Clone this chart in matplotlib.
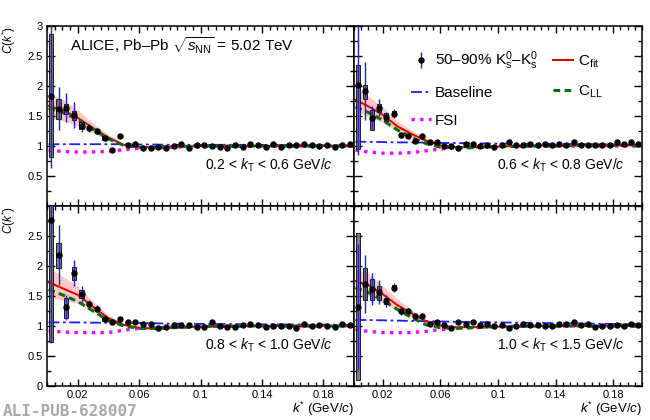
import matplotlib.pyplot as plt
from matplotlib.patches import Rectangle
from matplotlib.ticker import FixedLocator, MultipleLocator, FormatStrFormatter

plt.rcParams['font.family'] = ['Liberation Sans', 'DejaVu Sans']
plt.rcParams['mathtext.fontset'] = 'custom'
plt.rcParams['mathtext.rm'] = 'Liberation Sans'
plt.rcParams['mathtext.it'] = 'Liberation Sans:italic'
plt.rcParams['mathtext.bf'] = 'Liberation Sans:bold'

# k* bin centres (GeV/c)
kstar = [0.0025, 0.0075, 0.0125, 0.0175, 0.0225, 0.0275, 0.0325, 0.0375, 0.0425, 0.0475,
         0.0525, 0.0575, 0.0625, 0.0675, 0.0725, 0.0775, 0.0825, 0.0875, 0.0925, 0.0975,
         0.1025, 0.1075, 0.1125, 0.1175, 0.1225, 0.1275, 0.1325, 0.1375, 0.1425, 0.1475,
         0.1525, 0.1575, 0.1625, 0.1675, 0.1725, 0.1775, 0.1825, 0.1875, 0.1925, 0.1975]

# measured correlation C(k*), one list per kT bin
c_kt1 = [1.83, 1.62, 1.64, 1.52, 1.33, 1.30, 1.25, 1.13, 0.94, 1.16,
         1.02, 1.04, 0.96, 0.97, 0.99, 0.97, 1.00, 1.03, 0.97, 1.02,
         1.01, 1.00, 0.99, 0.96, 1.01, 0.99, 1.04, 1.01, 0.99, 1.03,
         0.99, 1.01, 1.02, 1.04, 1.01, 1.00, 1.02, 0.99, 1.02, 1.03]
c_kt2 = [2.02, 1.92, 1.46, 1.64, 1.48, 1.54, 1.18, 1.16, 1.08, 1.16,
         1.07, 1.06, 1.00, 1.00, 0.96, 1.03, 1.03, 1.00, 1.02, 0.99,
         1.02, 1.06, 1.02, 1.01, 1.03, 1.01, 1.03, 1.02, 1.03, 1.01,
         1.06, 1.02, 1.02, 1.02, 1.02, 1.01, 1.07, 1.03, 1.06, 1.03]
c_kt3 = [2.77, 2.18, 1.31, 1.88, 1.53, 1.36, 1.29, 1.11, 1.06, 1.11,
         1.06, 1.06, 1.03, 1.03, 0.96, 0.99, 1.02, 1.02, 1.01, 0.98,
         0.99, 1.06, 1.00, 0.99, 0.99, 1.01, 1.04, 1.01, 0.99, 1.00,
         1.00, 1.00, 0.97, 1.04, 1.00, 1.02, 1.00, 0.99, 1.03, 1.01]
c_kt4 = [1.32, 1.70, 1.62, 1.56, 1.41, 1.64, 1.25, 1.25, 1.17, 1.16,
         1.03, 1.06, 1.02, 0.97, 1.06, 1.03, 1.06, 1.02, 1.03, 1.00,
         1.02, 0.96, 1.00, 1.03, 1.02, 1.02, 1.00, 1.00, 1.04, 1.04,
         1.06, 1.02, 1.03, 0.99, 1.00, 1.00, 1.02, 1.00, 1.03, 1.01]

# statistical errors of the first bins (later ones hide under the marker)
stat_kt1 = [1.20, 0.36, 0.24, 0.22, 0.09, 0.06, 0.05, 0.04]
stat_kt2 = [1.17, 0.48, 0.20, 0.14, 0.08, 0.08, 0.04, 0.03]
stat_kt3 = [2.05, 0.50, 0.21, 0.22, 0.13, 0.07, 0.06, 0.04]
stat_kt4 = [1.05, 0.49, 0.27, 0.20, 0.10, 0.08, 0.06, 0.05]

# systematic boxes of the first bins: lower / upper edge
sys_lo_kt1 = [0.82, 1.45, 1.53, 1.44, 1.28, 1.26, 1.22, 1.10]
sys_hi_kt1 = [2.87, 1.78, 1.70, 1.58, 1.40, 1.34, 1.29, 1.16]
sys_lo_kt2 = [0.95, 1.79, 1.27, 1.56, 1.42, 1.50, 1.15, 1.13]
sys_hi_kt2 = [2.35, 2.02, 1.60, 1.70, 1.55, 1.58, 1.21, 1.19]
sys_lo_kt3 = [0.74, 1.96, 1.13, 1.77, 1.46, 1.33, 1.26, 1.08]
sys_hi_kt3 = [3.10, 2.39, 1.46, 1.99, 1.60, 1.40, 1.32, 1.14]
sys_lo_kt4 = [0.10, 1.43, 1.43, 1.44, 1.36, 1.60, 1.22, 1.22]
sys_hi_kt4 = [2.55, 1.96, 1.78, 1.66, 1.46, 1.68, 1.28, 1.28]

# model curves, read at these k* values
k_curve = [0.001, 0.01, 0.02, 0.03, 0.04, 0.05, 0.06, 0.07, 0.08, 0.10, 0.13, 0.16, 0.20]

fit_kt1 = [1.67, 1.60, 1.47, 1.30, 1.14, 1.02, 0.98, 0.98, 0.99, 1.00, 1.00, 1.00, 1.00]
band_kt1 = [0.21, 0.18, 0.13, 0.08, 0.05, 0.02, 0.01, 0.01, 0.0, 0.0, 0.0, 0.0, 0.0]
ll_kt1 = [1.63, 1.56, 1.44, 1.28, 1.12, 1.01, 0.98, 0.98, 0.99, 1.00, 1.00, 1.00, 1.00]
base_kt1 = [1.03, 1.03, 1.03, 1.03, 1.03, 1.03, 1.025, 1.025, 1.02, 1.02, 1.02, 1.015, 1.01]
fsi_kt1 = [0.93, 0.91, 0.90, 0.90, 0.91, 0.94, 0.96, 0.97, 0.98, 0.99, 0.995, 1.00, 1.00]

fit_kt2 = [1.77, 1.66, 1.52, 1.33, 1.20, 1.09, 1.01, 0.98, 0.98, 0.99, 1.01, 1.01, 1.01]
band_kt2 = [0.20, 0.17, 0.13, 0.09, 0.06, 0.03, 0.01, 0.01, 0.0, 0.0, 0.0, 0.0, 0.0]
ll_kt2 = [1.65, 1.56, 1.43, 1.27, 1.14, 1.04, 0.98, 0.97, 0.97, 0.99, 1.00, 1.01, 1.01]
base_kt2 = [1.07, 1.07, 1.065, 1.06, 1.06, 1.055, 1.05, 1.05, 1.045, 1.04, 1.035, 1.03, 1.02]
fsi_kt2 = [0.93, 0.90, 0.88, 0.88, 0.89, 0.92, 0.95, 0.97, 0.98, 0.99, 1.00, 1.00, 1.00]

fit_kt3 = [1.73, 1.63, 1.52, 1.32, 1.13, 1.02, 0.97, 0.96, 0.97, 0.99, 1.00, 1.00, 1.00]
band_kt3 = [0.24, 0.20, 0.14, 0.09, 0.05, 0.02, 0.01, 0.01, 0.0, 0.0, 0.0, 0.0, 0.0]
ll_kt3 = [1.61, 1.52, 1.41, 1.25, 1.09, 1.00, 0.96, 0.96, 0.97, 0.99, 1.00, 1.00, 1.00]
base_kt3 = [1.06, 1.06, 1.06, 1.055, 1.055, 1.05, 1.05, 1.045, 1.04, 1.035, 1.03, 1.025, 1.02]
fsi_kt3 = [0.92, 0.90, 0.89, 0.89, 0.89, 0.93, 0.96, 0.97, 0.98, 0.99, 1.00, 1.00, 1.00]

fit_kt4 = [1.75, 1.68, 1.53, 1.35, 1.21, 1.08, 1.01, 0.98, 0.98, 0.99, 1.00, 1.00, 1.00]
band_kt4 = [0.22, 0.19, 0.14, 0.10, 0.06, 0.03, 0.01, 0.01, 0.0, 0.0, 0.0, 0.0, 0.0]
ll_kt4 = [1.64, 1.56, 1.43, 1.28, 1.14, 1.02, 0.97, 0.96, 0.97, 0.99, 1.00, 1.00, 1.00]
base_kt4 = [1.10, 1.10, 1.095, 1.09, 1.085, 1.08, 1.075, 1.07, 1.065, 1.06, 1.05, 1.04, 1.03]
fsi_kt4 = [0.94, 0.91, 0.89, 0.89, 0.89, 0.91, 0.94, 0.96, 0.97, 0.99, 1.00, 1.00, 1.00]

kt_labels = [r"0.2 < $k_{\mathrm{T}}$ < 0.6 GeV/$c$", r"0.6 < $k_{\mathrm{T}}$ < 0.8 GeV/$c$",
             r"0.8 < $k_{\mathrm{T}}$ < 1.0 GeV/$c$", r"1.0 < $k_{\mathrm{T}}$ < 1.5 GeV/$c$"]


def draw_panel(ax, c, stat, sys_lo, sys_hi, fit, band, ll, base, fsi):
    lo = [f - b for f, b in zip(fit, band)]
    hi = [f + b for f, b in zip(fit, band)]
    ax.fill_between(k_curve, lo, hi, color='#ffb0b0', alpha=0.7, lw=0, zorder=1)
    h_base, = ax.plot(k_curve, base, color='#1a1aff', lw=1.3, ls=(0, (6, 2, 1.5, 2)), zorder=2)
    h_fsi, = ax.plot(k_curve, fsi, color='#ff00ff', lw=2.4, ls=(0, (1.0, 1.6)),
                     dash_capstyle='butt', zorder=2)
    h_fit, = ax.plot(k_curve, fit, color='#e00000', lw=1.4, zorder=3)
    h_ll, = ax.plot(k_curve, ll, color='#007000', lw=2.2, ls=(0, (2.2, 1.4)), zorder=4)
    n = len(stat)
    for k, l, h in zip(kstar[:n], sys_lo, sys_hi):
        ax.add_patch(Rectangle((k - 0.0014, l), 0.0028, h - l, facecolor='#6a6a80',
                               edgecolor='black', lw=0.7, alpha=0.85, zorder=5))
    ax.errorbar(kstar[:n], c[:n], yerr=stat, fmt='none', ecolor='#2020d0', elinewidth=1.0, zorder=6)
    ax.plot(kstar, c, 'o', color='black', ms=3.6, zorder=7)
    h_data = ax.errorbar([], [], yerr=[], fmt='o', color='black', ms=3.6, ecolor='#2020d0', elinewidth=1.0)
    return h_data, h_base, h_fsi, h_fit, h_ll


fig = plt.figure(figsize=(6.5, 4.2), dpi=100)
W, H = 650.0, 420.0
ax_tl = fig.add_axes([47 / W, 1 - 206 / H, 307 / W, 180 / H])
ax_tr = fig.add_axes([354 / W, 1 - 206 / H, 288 / W, 180 / H])
ax_bl = fig.add_axes([47 / W, 1 - 386 / H, 307 / W, 180 / H])
ax_br = fig.add_axes([354 / W, 1 - 386 / H, 288 / W, 180 / H])
axes = [ax_tl, ax_tr, ax_bl, ax_br]

panels = [
    (c_kt1, stat_kt1, sys_lo_kt1, sys_hi_kt1, fit_kt1, band_kt1, ll_kt1, base_kt1, fsi_kt1),
    (c_kt2, stat_kt2, sys_lo_kt2, sys_hi_kt2, fit_kt2, band_kt2, ll_kt2, base_kt2, fsi_kt2),
    (c_kt3, stat_kt3, sys_lo_kt3, sys_hi_kt3, fit_kt3, band_kt3, ll_kt3, base_kt3, fsi_kt3),
    (c_kt4, stat_kt4, sys_lo_kt4, sys_hi_kt4, fit_kt4, band_kt4, ll_kt4, base_kt4, fsi_kt4),
]

handles = None
for i, (ax, p) in enumerate(zip(axes, panels)):
    hs = draw_panel(ax, *p)
    if i == 1:
        handles = hs
    ax.set_xlim(0, 0.2)
    ax.set_ylim(0, 3)
    ax.xaxis.set_major_locator(FixedLocator([0.02, 0.06, 0.10, 0.14, 0.18]))
    ax.xaxis.set_minor_locator(MultipleLocator(0.005))
    ax.yaxis.set_major_locator(MultipleLocator(0.5))
    ax.yaxis.set_minor_locator(MultipleLocator(0.25))
    ax.xaxis.set_major_formatter(FormatStrFormatter('%g'))
    ax.yaxis.set_major_formatter(FormatStrFormatter('%g'))
    ax.tick_params(which='both', direction='in', top=True, right=True, labelsize=8, width=1.0)
    ax.tick_params(axis='y', which='major', length=6, pad=3)
    ax.tick_params(axis='y', which='minor', length=3)
    ax.tick_params(axis='x', which='major', length=5, pad=3)
    ax.tick_params(axis='x', which='minor', length=3)
    for s in ax.spines.values():
        s.set_linewidth(1.1)
    if i in (1, 3):
        ax.tick_params(labelleft=False)
    if i in (0, 1):
        ax.tick_params(labelbottom=False)
    ax.text(0.93 if i in (0, 2) else 0.94, 0.225, kt_labels[i], transform=ax.transAxes,
            ha='right', va='center', fontsize=10)

ax_tl.set_yticks([0.5, 1, 1.5, 2, 2.5, 3])
ax_bl.set_yticks([0, 0.5, 1, 1.5, 2, 2.5])
ax_tl.yaxis.set_minor_locator(MultipleLocator(0.25))
ax_bl.yaxis.set_minor_locator(MultipleLocator(0.25))

for ax in (ax_tl, ax_bl):
    ax.set_ylabel(r"$C(k^{*})$", loc='top', fontsize=8.5)
    ax.yaxis.set_label_coords(-0.095, 1.0)
for ax in (ax_bl, ax_br):
    ax.set_xlabel(r"$k^{*}$ (GeV/$c$)", loc='right', fontsize=9.5)
    ax.xaxis.set_label_coords(1.0, -0.075)

ax_tl.text(0.075, 0.89, r"ALICE, Pb–Pb $\sqrt{s_{\mathrm{NN}}}$ = 5.02 TeV", transform=ax_tl.transAxes,
           ha='left', va='center', fontsize=11)

h_data, h_base, h_fsi, h_fit, h_ll = handles
fig.legend([h_data, h_base, h_fsi, h_fit, h_ll],
           [r"50–90% K$^{0}_{\mathrm{s}}$–K$^{0}_{\mathrm{s}}$", "Baseline", "FSI",
            r"C$_{\mathrm{fit}}$", r"C$_{\mathrm{LL}}$"],
           ncol=2, frameon=False, fontsize=11, loc='upper left',
           bbox_to_anchor=(403 / W, 1 - 42 / H), borderpad=0, handlelength=1.3,
           handletextpad=0.3, labelspacing=0.9, columnspacing=1.0)

fig.text(0.004, 1 - 411 / H, "ALI-PUB-628007", family='DejaVu Sans Mono', weight='bold',
         color='#a8a8a8', fontsize=11.5, ha='left', va='center')

fig.savefig("out.png", dpi=100)
